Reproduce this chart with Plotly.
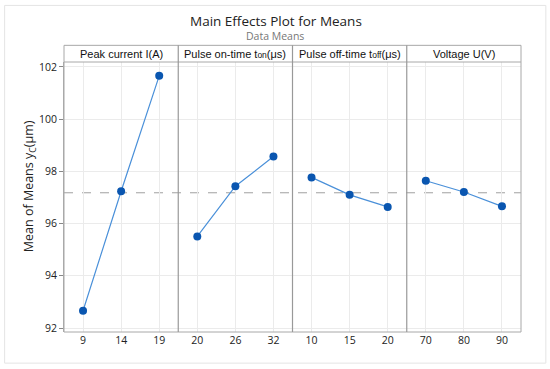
import plotly.graph_objects as go

factor_names = ["Peak current I(A)",
                "Pulse on-time t<span style='font-size:8.5px'>on</span>(μs)",
                "Pulse off-time t<span style='font-size:8.5px'>off</span>(μs)",
                "Voltage U(V)"]
level_labels = [["9", "14", "19"], ["20", "26", "32"], ["10", "15", "20"], ["70", "80", "90"]]
mean_values = [[92.66, 97.24, 101.66],
               [95.51, 97.43, 98.57],
               [97.77, 97.10, 96.64],
               [97.64, 97.21, 96.66]]
grand_mean = 97.18
y_ticks = [92, 94, 96, 98, 100, 102]

W, H = 550, 369
L, R, T, B = 64.3, 520.7, 61.7, 332.3
header_top = 45.0
ml, mr, mt, mb = L, W - R, T, H - B
pw = R - L
ph = B - T
hdr = (T - header_top) / ph

fig = go.Figure()
n = len(factor_names)
tick_font = dict(family="Open Sans, Noto Sans, sans-serif", size=10.5, color="#222")
for i in range(n):
    xa = "x" if i == 0 else f"x{i+1}"
    fig.add_trace(go.Scatter(
        x=level_labels[i], y=mean_values[i], xaxis=xa, yaxis="y",
        mode="lines+markers",
        line=dict(color="#4a90d9", width=1.2),
        marker=dict(color="#0a56b0", size=8),
        showlegend=False, hoverinfo="x+y"))
    key = "xaxis" if i == 0 else f"xaxis{i+1}"
    fig.layout[key] = dict(
        domain=[i / n, (i + 1) / n], type="category", range=[-0.5, 2.5],
        showgrid=True, gridcolor="#ebebeb", gridwidth=1,
        showline=False, zeroline=False, ticks="", tickfont=tick_font,
        anchor="y", fixedrange=True, automargin=False)

fig.update_layout(
    yaxis=dict(range=[91.847, 102.19], tickvals=y_ticks, showgrid=True,
               gridcolor="#ebebeb", zeroline=False, showline=True,
               linecolor="#aaaaaa", linewidth=1, ticks="outside", ticklen=4,
               tickcolor="#888", tickfont=tick_font, automargin=False,
               fixedrange=True),
    width=W, height=H,
    margin=dict(l=ml, r=mr, t=mt, b=mb, pad=0),
    paper_bgcolor="white", plot_bgcolor="white",
)

shapes = []
# outer light frame
shapes.append(dict(type="rect", xref="paper", yref="paper",
                   x0=(5 - L) / pw, x1=(545.5 - L) / pw,
                   y0=(B - 363.5) / ph, y1=(B - 5) / ph,
                   line=dict(color="#e4e4e4", width=1), fillcolor="rgba(0,0,0,0)", layer="below"))
# plot frame including header
shapes.append(dict(type="rect", xref="paper", yref="paper", x0=0, x1=1, y0=0, y1=1 + hdr,
                   line=dict(color="#a8a8a8", width=1), fillcolor="rgba(0,0,0,0)"))
# header bottom line
shapes.append(dict(type="line", xref="paper", yref="paper", x0=0, x1=1, y0=1, y1=1,
                   line=dict(color="#a8a8a8", width=1)))
# panel dividers
for i in range(1, n):
    shapes.append(dict(type="line", xref="paper", yref="paper", x0=i / n, x1=i / n,
                       y0=0, y1=1 + hdr, line=dict(color="#999999", width=1.2)))
# grand mean dashed line
shapes.append(dict(type="line", xref="paper", yref="y", x0=0, x1=1, y0=grand_mean, y1=grand_mean,
                   line=dict(color="#a0a0a0", width=1, dash="dash"), layer="below"))
fig.update_layout(shapes=shapes)

annotations = []
for i, name in enumerate(factor_names):
    annotations.append(dict(text=name, xref="paper", yref="paper",
                            x=(i + 0.5) / n, y=1 + hdr / 2, showarrow=False,
                            xanchor="center", yanchor="middle",
                            font=dict(family="Liberation Sans, Arial, sans-serif", size=11, color="#111")))
annotations.append(dict(text="Main Effects Plot for Means", xref="paper", yref="paper",
                        x=(276 - L) / pw, y=(B - 21) / ph, showarrow=False,
                        xanchor="center", yanchor="middle",
                        font=dict(family="Open Sans, Noto Sans, sans-serif", size=13.5, color="#222")))
annotations.append(dict(text="Data Means", xref="paper", yref="paper",
                        x=(275.5 - L) / pw, y=(B - 36) / ph, showarrow=False,
                        xanchor="center", yanchor="middle",
                        font=dict(family="Open Sans, Noto Sans, sans-serif", size=10.5, color="#777")))
annotations.append(dict(text="Mean of Means y<sub>C</sub>(μm)", xref="paper", yref="paper",
                        x=(30 - L) / pw, y=(B - 186.5) / ph, showarrow=False, textangle=-90,
                        xanchor="center", yanchor="middle",
                        font=dict(family="Open Sans, Noto Sans, sans-serif", size=12.5, color="#222")))
fig.update_layout(annotations=annotations)

fig.write_html("out.html", config={"displayModeBar": False},
               post_script="document.body.style.margin='0';")
